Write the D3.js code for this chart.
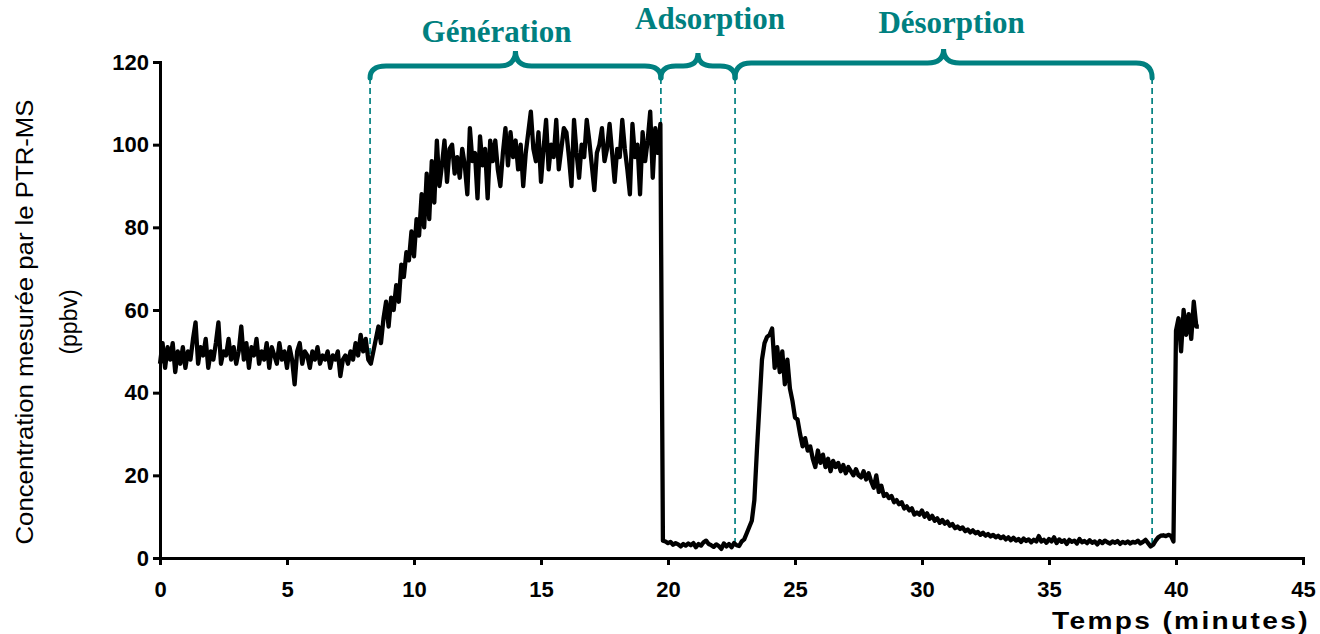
<!DOCTYPE html>
<html lang="fr">
  <head>
    <meta charset="utf-8">
    <title>Concentration PTR-MS</title>
    <script src="https://d3js.org/d3.v7.min.js"></script>
    <style>
    body { margin: 0; background: #fff; }
    .tick text { font-family: Arial, "Liberation Sans", sans-serif; font-weight: bold; font-size: 22px; fill: #000; }
    .axis path, .axis line { stroke: #000; stroke-width: 3px; }
    .phase { font-family: "Times New Roman", "Liberation Serif", serif; font-weight: bold; font-size: 31px; fill: #008080; }
    </style>
  </head>
  <body>
    <div id="chart"></div>
    <script>
    // sampling step (minutes) of the PTR-MS record
    var step = 0.1;

    // baseline before generation, from t = 0
    var baseline = [
      47, 52, 46, 51, 48, 52, 45, 50, 47, 51,
      46, 50, 48, 53, 57, 47, 51, 49, 53, 46,
      50, 48, 52, 57, 47, 50, 49, 53, 48, 51,
      47, 50, 56, 48, 52, 46, 51, 49, 53, 47,
      50, 48, 52, 46, 51, 49, 47, 52, 48, 50,
      46, 51, 48, 42, 50, 52, 47, 50, 49, 46,
      50, 48, 51, 47, 49, 48, 50, 46, 49, 48,
      50, 44, 48, 49, 47, 50, 48, 52, 49, 54,
      50, 53, 48
    ];
    // rise, from t = 8.3
    var generation = [
      47, 50, 53, 56, 52, 58, 62, 56, 63, 60,
      66, 62, 71, 68, 74, 72, 79, 73, 82, 78,
      88, 80, 93, 82, 96, 86, 101, 90
    ];
    // plateau, from t = 11.1
    var plateau = [
      95, 101, 91, 99, 100, 93, 97, 92, 99, 95,
      88, 104, 96, 98, 87, 102, 95, 99, 87, 101,
      96, 101, 94, 90, 98, 104, 95, 103, 97, 101,
      94, 100, 90, 98, 103, 108, 99, 96, 103, 91,
      99, 106, 94, 100, 97, 106, 94, 99, 104, 103,
      97, 90, 106, 98, 92, 100, 97, 106, 101, 95,
      89, 98, 100, 104, 96, 99, 105, 98, 91, 99,
      97, 106, 99, 94, 88, 105, 97, 100, 88, 103,
      96, 101, 108, 92, 104, 98, 105
    ];
    // adsorption, from t = 19.8
    var adsorption = [
      4.2, 4.0, 3.6, 3.9, 3.2, 3.6, 3.3, 2.8, 3.4, 3.0,
      3.5, 3.1, 3.6, 2.6, 3.4, 3.0, 3.8, 4.2, 3.4, 3.1,
      2.7, 3.3, 2.9, 2.2, 3.5, 2.8, 3.4, 2.6, 3.6, 3.1,
      2.9, 4.0
    ];
    // desorption, from t = 23.0
    var desorption = [
      4.5, 6, 7.5, 9, 14, 26, 37, 48, 52, 53.5,
      54, 55.5, 46, 51, 45, 50, 42, 48, 41, 38,
      34, 33.5, 30, 27, 29, 26, 27, 24, 22, 26,
      23, 25, 22, 24, 21, 23.5, 22, 23, 21, 22.5,
      20.5, 22, 21, 20, 21.5, 20, 19.5, 21, 19, 20.5,
      18.5, 17, 20, 16, 17.5, 15, 15.5, 14.5, 15, 13.5,
      14, 13, 13.5, 12, 12.5, 11.5, 12, 10.5, 11, 10.5,
      11.5, 10, 10.8, 9.5, 10.2, 9, 9.6, 8.5, 9.2, 8.3,
      8.8, 7.8, 8.2, 7.2, 7.6, 7, 7.4, 6.5, 6.9, 6.2,
      6.7, 6, 6.3, 5.6, 6.1, 5.4, 5.8, 5.2, 5.6, 5.0,
      5.4, 4.8, 5.2, 4.5, 5.0, 4.3, 4.9, 4.2, 4.6, 3.9,
      4.7, 4.1, 4.5, 3.8, 4.4, 4.0, 5.3, 4.0, 4.4, 3.7,
      4.6, 4.0, 5.0, 3.6, 4.5, 3.9, 4.3, 3.4, 4.4, 3.9,
      4.2, 3.5, 4.6, 3.8, 4.1, 3.6, 4.3, 3.7, 4.0, 3.3,
      4.1, 3.6, 4.2, 3.8, 3.5, 4.0, 3.7, 4.1, 3.4, 3.9,
      3.6, 4.0, 3.5, 3.9, 3.7, 4.2, 3.5, 3.9, 4.4, 3.6,
      2.8, 3.2, 4.2, 5.0, 5.4, 5.5, 5.3, 5.6, 5.4, 4.0
    ];
    // back to the generator, from t = 40.0
    var recovery = [55, 58, 50, 60, 54, 59, 53, 62, 56, 56];

    var segments = [
      { start: 0, values: baseline },
      { start: 8.3, values: generation },
      { start: 11.1, values: plateau },
      { start: 19.8, values: adsorption },
      { start: 23.0, values: desorption },
      { start: 40.0, values: recovery }
    ];

    // phases: names, boundaries (min) and level where each dashed line stops
    var phaseNames = ["Génération", "Adsorption", "Désorption"];
    var phaseBounds = [8.27, 19.72, 22.64, 39.06];
    var boundLevel = [47, 104, 3, 3];

    var xTicks = [0, 5, 10, 15, 20, 25, 30, 35, 40, 45];
    var yTicks = [0, 20, 40, 60, 80, 100, 120];

    var W = 1320, H = 634;
    var teal = "#008080";

    var svg = d3.select("#chart").append("svg")
      .attr("width", W).attr("height", H);

    var x = d3.scaleLinear().domain([0, 45]).range([160, 1303]);
    var y = d3.scaleLinear().domain([0, 120]).range([558, 62]);

    var data = [];
    segments.forEach(function (s) {
      s.values.forEach(function (v, i) {
        data.push({ t: +(s.start + i * step).toFixed(2), v: v });
      });
    });

    //axes
    svg.append("g").attr("class", "axis")
      .attr("transform", "translate(0," + y(0) + ")")
      .call(d3.axisBottom(x).tickValues(xTicks).tickSize(7).tickSizeOuter(0).tickPadding(16));

    svg.append("g").attr("class", "axis")
      .attr("transform", "translate(" + x(0) + ",0)")
      .call(d3.axisLeft(y).tickValues(yTicks).tickSize(7).tickSizeOuter(0).tickPadding(4));

    svg.selectAll(".axis path").attr("stroke-linecap", "square");

    //dashed phase boundaries
    svg.selectAll(".bound").data(phaseBounds).enter().append("line")
      .attr("x1", function (d) { return x(d); })
      .attr("x2", function (d) { return x(d); })
      .attr("y1", 78)
      .attr("y2", function (d, i) { return y(boundLevel[i]); })
      .attr("stroke", teal).attr("stroke-width", 1.7)
      .attr("stroke-dasharray", "6,4");

    //data line
    var line = d3.line().x(function (d) { return x(d.t); }).y(function (d) { return y(d.v); });
    svg.append("path").datum(data)
      .attr("d", line)
      .attr("fill", "none")
      .attr("stroke", "#000")
      .attr("stroke-width", 4.3)
      .attr("stroke-linejoin", "round");

    //curly braces over each phase
    var braceLayout = [
      { bar: 66, tip: 51, label: 35, dx: -19 },
      { bar: 66, tip: 53, label: 22, dx: 12 },
      { bar: 63, tip: 49, label: 26, dx: 8 }
    ];
    function brace(x1, x2, b) {
      var xm = (x1 + x2) / 2, r = Math.min(16, (x2 - x1) / 5), end = 78;
      return "M" + x1 + "," + end +
        "Q" + x1 + "," + b.bar + " " + (x1 + r) + "," + b.bar +
        "L" + (xm - r) + "," + b.bar +
        "Q" + xm + "," + b.bar + " " + xm + "," + b.tip +
        "Q" + xm + "," + b.bar + " " + (xm + r) + "," + b.bar +
        "L" + (x2 - r) + "," + b.bar +
        "Q" + x2 + "," + b.bar + " " + x2 + "," + end;
    }
    phaseNames.forEach(function (name, i) {
      var x1 = x(phaseBounds[i]), x2 = x(phaseBounds[i + 1]);
      var b = braceLayout[i];
      svg.append("path")
        .attr("d", brace(x1, x2, b))
        .attr("fill", "none").attr("stroke", teal).attr("stroke-width", 5)
        .attr("stroke-linecap", "round");
      svg.append("text").attr("class", "phase")
        .attr("x", (x1 + x2) / 2 + b.dx).attr("y", b.label)
        .attr("text-anchor", "middle").attr("dominant-baseline", "middle")
        .text(name);
    });

    //axis titles
    svg.append("text")
      .attr("transform", "translate(33,322) rotate(-90)")
      .attr("text-anchor", "middle")
      .attr("textLength", 445).attr("lengthAdjust", "spacingAndGlyphs")
      .style("font-family", "Arial, 'Liberation Sans', sans-serif").style("font-size", "23px")
      .text("Concentration mesurée par le PTR-MS");
    svg.append("text")
      .attr("transform", "translate(77,322) rotate(-90)")
      .attr("text-anchor", "middle")
      .style("font-family", "Arial, 'Liberation Sans', sans-serif").style("font-size", "23px")
      .text("(ppbv)");
    svg.append("text")
      .attr("x", 1310).attr("y", 629)
      .attr("text-anchor", "end")
      .attr("textLength", 258).attr("lengthAdjust", "spacingAndGlyphs")
      .style("font-family", "Arial, 'Liberation Sans', sans-serif").style("font-size", "24px")
      .style("font-weight", "bold").style("letter-spacing", "2px")
      .text("Temps (minutes)");
    </script>
  </body>
</html>
